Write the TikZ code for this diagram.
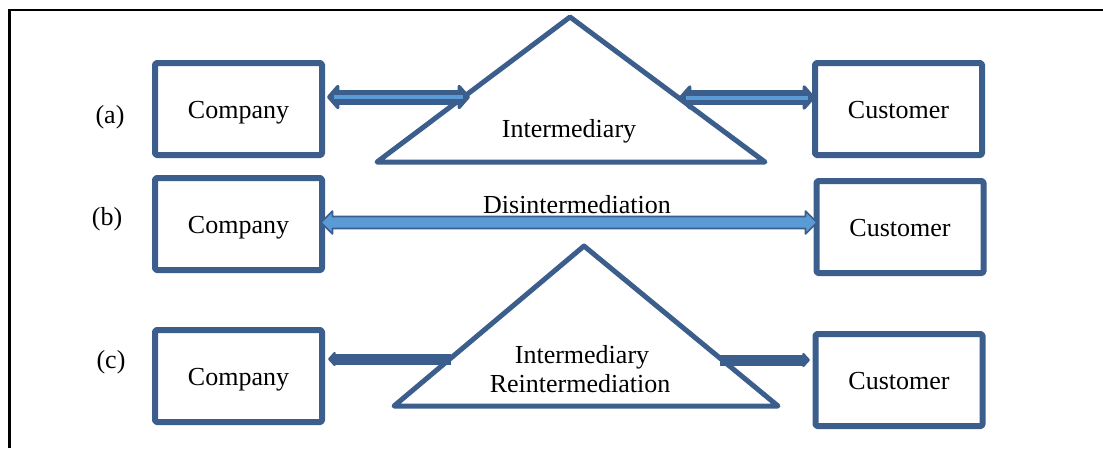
\documentclass[tikz,border=0pt]{standalone}
\usepackage{fontspec}
\setmainfont{Liberation Serif}
\usetikzlibrary{arrows.meta,calc}
\definecolor{dk}{HTML}{3B5E8C}
\definecolor{lt}{HTML}{5B9BD5}
\begin{document}
\begin{tikzpicture}[x=1pt,y=-1pt,
  txt/.style={font=\fontsize{26}{30}\selectfont, inner sep=0pt},
  box/.style={draw=dk, line width=6pt, fill=white, rounded corners=1.5pt, line join=round,
    minimum width=167pt, minimum height=92pt, inner sep=0pt,
    text height=18pt, text depth=0pt, font=\fontsize{26}{30}\selectfont},
  tri/.style={draw=dk, line width=5pt, line join=round},
  dbl/.style={dk, line width=15pt, {Triangle[length=13pt,width=29pt,round]}-{Triangle[length=13pt,width=29pt,round]}},
  dblin/.style={lt, line width=4pt},
  single/.style={dk, line width=11pt, -{Triangle[length=8pt,width=17pt,round]}},
  disarrow/.style={draw=dk, fill=lt, line width=1.6pt, line join=round},
]
\useasboundingbox (0,0) rectangle (1103,448);
\draw[line width=2.2pt] (9.5,448) -- (9.5,10) -- (1103,10);

% ---- (a)
\node[txt] (la) at (110,117) {(a)};
\node[box] (ca) at (238.5,109) {Company};
\node[box] (ua) at (898.5,109) {Customer};
\coordinate (ta1) at (570,17);
\coordinate (ta2) at (377,162);
\coordinate (ta3) at (765,162);
\draw[tri] (ta1) -- (ta2) -- (ta3) -- cycle;
\node[txt, anchor=base] (ia) at (569,137) {Intermediary};
\coordinate (a1) at (327,97);
\coordinate (a2) at (470,97);
\coordinate (a3) at (679,97.5);
\coordinate (a4) at (815,97.5);
\draw[dbl] (a1) -- (a2);
\draw[dblin] ($(a1)+(7,0)$) -- ($(a2)+(-7,0)$);
\draw[dbl] (a3) -- (a4);
\draw[dblin] ($(a3)+(7,0)$) -- ($(a4)+(-7,0)$);

% ---- (b)
\node[txt] (lb) at (107,219) {(b)};
\node[box] (cb) at (238.5,224) {Company};
\node[box] (ub) at (900,227) {Customer};
\node[txt, anchor=base] (dis) at (577,213) {Disintermediation};
\coordinate (b1) at (321,222.5);
\coordinate (b2) at (817,222.5);
\draw[disarrow] (b1) -- ++(11.5,-11.5) -- ++(0,5.5) -- ($(b2)+(-11.5,-6)$) -- ++(0,-5.5)
  -- (b2) -- ++(-11.5,11.5) -- ++(0,-5.5) -- ($(b1)+(11.5,6)$) -- ++(0,5.5) -- cycle;

% ---- (c)
\node[txt] (lc) at (111,362) {(c)};
\node[box] (cc) at (238.5,376) {Company};
\node[box] (uc) at (899,380) {Customer};
\coordinate (tc1) at (584,246);
\coordinate (tc2) at (394,406);
\coordinate (tc3) at (778,406);
\draw[tri] (tc1) -- (tc2) -- (tc3) -- cycle;
\node[txt, anchor=base] (ic) at (582,363) {Intermediary};
\node[txt, anchor=base] (rc) at (580,392) {Reintermediation};
\coordinate (c1) at (451,359);
\coordinate (c2) at (328,359);
\coordinate (c3) at (720,360);
\coordinate (c4) at (810,360);
\draw[single] (c1) -- (c2);
\draw[single] (c3) -- (c4);
\end{tikzpicture}
\end{document}
